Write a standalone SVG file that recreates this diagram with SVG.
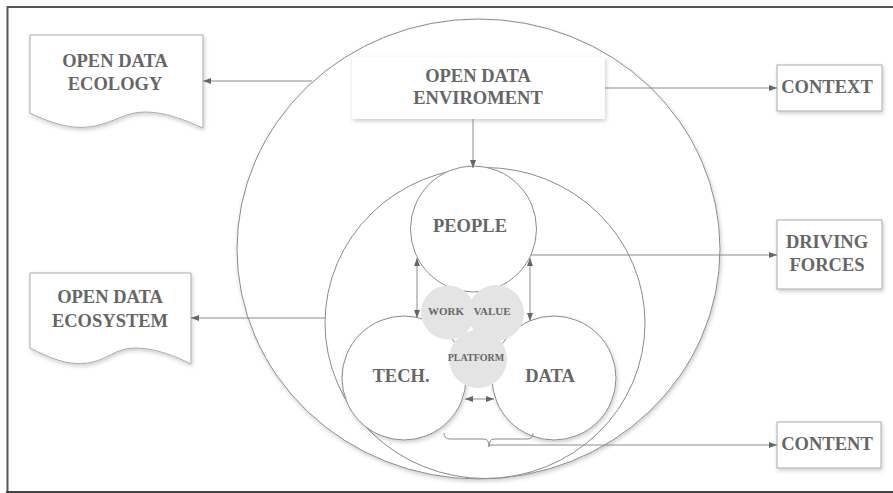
<svg xmlns="http://www.w3.org/2000/svg" width="893" height="493" viewBox="0 0 893 493">
<style>
.lbl{font-family:"Liberation Serif","Times New Roman",serif;font-weight:bold;fill:#666;text-anchor:middle}
.big{font-size:18.5px}
.sm{font-size:11px}
.xs{font-size:10px}
.ring{fill:#fff;stroke:#8a8a8a;stroke-width:1}
.gray{fill:#e4e4e4;stroke:none}
.box{fill:#fff;stroke:#aaa;stroke-width:1}
.conn{stroke:#8a8a8a;stroke-width:1;fill:none}
</style>
<defs>
<filter id="sh" x="-20%" y="-20%" width="140%" height="150%">
<feDropShadow dx="1" dy="2" stdDeviation="2" flood-color="#000" flood-opacity="0.2"/>
</filter>
<marker id="ah" markerWidth="8" markerHeight="6" refX="8" refY="3" orient="auto-start-reverse" markerUnits="userSpaceOnUse">
<path d="M0,0 L8,3 L0,6 Z" fill="#666"/>
</marker>
</defs>
<rect width="893" height="493" fill="#fff"/>
<path d="M7.5,495 V7 H895" fill="none" stroke="#555" stroke-width="2"/>
<line x1="6" y1="492" x2="895" y2="492" stroke="#444" stroke-width="2"/>

<g id="environment-ring"><ellipse class="ring" cx="478.5" cy="249" rx="241.5" ry="230" filter="url(#sh)"/></g>
<g id="ecosystem-ring"><ellipse class="ring" cx="485" cy="323" rx="160" ry="155.5"/></g>
<g id="people"><circle class="ring" cx="473.5" cy="229" r="63"/><text class="lbl big" x="470" y="232">PEOPLE</text></g>
<g id="tech"><circle class="ring" cx="404" cy="378" r="62" filter="url(#sh)"/><text class="lbl big" x="401" y="382">TECH.</text></g>
<g id="data"><circle class="ring" cx="554" cy="378" r="62" filter="url(#sh)"/><text class="lbl big" x="550" y="382">DATA</text></g>
<g id="work"><circle class="gray" cx="448" cy="312.5" r="27"/><text class="lbl sm" x="446" y="315">WORK</text></g>
<g id="platform"><circle class="gray" cx="478" cy="359" r="29"/><text class="lbl xs" x="476" y="361">PLATFORM</text></g>
<g id="value"><circle class="gray" cx="496" cy="313" r="28"/><text class="lbl sm" x="492" y="315">VALUE</text></g>

<g id="open-data-enviroment"><rect x="352" y="57" width="253" height="62" fill="#fff" filter="url(#sh)"/>
<text class="lbl big" x="478" y="82">OPEN DATA</text><text class="lbl big" x="478" y="104">ENVIROMENT</text></g>

<g id="open-data-ecology"><path class="box" filter="url(#sh)" d="M30,35 H203 V128 C185,120 165,112 145,112 C125,112 115,122 95,126 C75,130 55,125 30,113 Z"/>
<text class="lbl big" x="115" y="67">OPEN DATA</text><text class="lbl big" x="115" y="90">ECOLOGY</text></g>

<g id="open-data-ecosystem"><path class="box" filter="url(#sh)" d="M30,273 H191 V364 C175,356 155,348 135,348 C115,348 108,360 88,363 C68,366 50,358 30,348 Z"/>
<text class="lbl big" x="110" y="303">OPEN DATA</text><text class="lbl big" x="110" y="327">ECOSYSTEM</text></g>

<g id="context"><rect class="box" x="777" y="65" width="105" height="46" filter="url(#sh)"/><text class="lbl big" x="827" y="93">CONTEXT</text></g>
<g id="driving-forces"><rect class="box" x="777" y="220" width="105" height="69" filter="url(#sh)"/><text class="lbl big" x="827" y="248">DRIVING</text><text class="lbl big" x="827" y="271">FORCES</text></g>
<g id="content"><rect class="box" x="777" y="422" width="104" height="46" filter="url(#sh)"/><text class="lbl big" x="827" y="450">CONTENT</text></g>

<g id="connectors">
<line class="conn" x1="312" y1="81" x2="203" y2="81" marker-end="url(#ah)"/>
<line class="conn" x1="605" y1="88" x2="777" y2="88" marker-end="url(#ah)"/>
<line class="conn" x1="473" y1="119" x2="473" y2="168" marker-end="url(#ah)"/>
<line class="conn" x1="325" y1="318" x2="191" y2="318" marker-end="url(#ah)"/>
<line class="conn" x1="531" y1="255" x2="777" y2="255" marker-end="url(#ah)"/>
<line class="conn" x1="417" y1="258" x2="417" y2="318" marker-start="url(#ah)" marker-end="url(#ah)"/>
<line class="conn" x1="530" y1="258" x2="530" y2="321" marker-start="url(#ah)" marker-end="url(#ah)"/>
<line class="conn" x1="465" y1="399" x2="494" y2="399" marker-start="url(#ah)" marker-end="url(#ah)"/>
<path class="conn" d="M444,433 Q444,439 450,439 H484 Q489,439 489,447 Q489,439 494,439 H527 Q533,439 533,433"/>
<line class="conn" x1="489" y1="445" x2="777" y2="445" marker-end="url(#ah)"/>
</g>
</svg>
